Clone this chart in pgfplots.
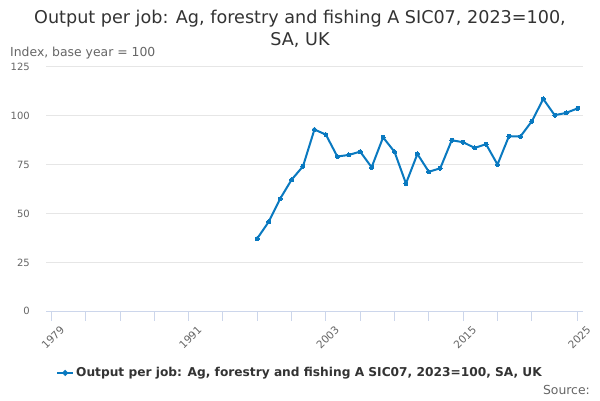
\documentclass[border=0pt]{standalone}
\usepackage{pgfplots}
\pgfplotsset{compat=1.18}
\usepackage{fontspec}
\setmainfont{DejaVu Sans}
\definecolor{linec}{RGB}{9,121,192}
\definecolor{gridc}{RGB}{230,230,230}
\definecolor{axisc}{RGB}{204,214,235}
\definecolor{txtc}{RGB}{51,51,51}
\definecolor{lblc}{RGB}{102,102,102}
\begin{document}
\begin{tikzpicture}[x=1bp,y=1bp]
\path[use as bounding box,fill=white] (0,0) rectangle (600,400);
\node[text=txtc,font=\fontsize{17.6bp}{22bp}\selectfont,align=center] at (300,371) {Output per job: Ag, forestry and fishing A SIC07, 2023=100,\\SA, UK};
\node[text=lblc,font=\fontsize{12.4bp}{14bp}\selectfont,anchor=west,inner sep=0] at (10,347) {Index, base year = 100};
\node[text=lblc,font=\fontsize{12.4bp}{14bp}\selectfont,anchor=east,inner sep=0] at (590,10) {Source:};
\begin{axis}[
  at={(46bp,88.7bp)}, anchor=south west,
  scale only axis, width=537.3bp, height=244.6bp,
  xmin=1978.54, xmax=2025.5, ymin=0, ymax=125,
  axis line style={draw=none},
  axis x line*=bottom,
  x axis line style={draw=axisc,line width=0.8pt},
  y axis line style={draw=none},
  ytick={0,25,50,75,100,125},
  ymajorgrids, grid style={gridc,line width=0.6pt},
  major y tick style={draw=none},
  xtick={1979,1991,2003,2015,2025},
  xticklabels={1979,1991,2003,2015,2025},
  minor xtick={1982,1985,1988,1994,1997,2000,2006,2009,2012,2018,2021},
  major x tick style={draw=axisc,line width=0.8pt},
  minor x tick style={draw=axisc,line width=0.8pt},
  xtick align=outside, major tick length=9.5bp, minor tick length=9.5bp,
  x tick label style={rotate=45,anchor=east,font=\fontsize{10.5bp}{12bp}\selectfont,text=lblc,inner sep=0pt,yshift=-13bp,xshift=3bp},
  y tick label style={font=\fontsize{10bp}{12bp}\selectfont,text=lblc,anchor=east,inner sep=0pt,xshift=-16bp},
  /pgf/number format/assume math mode=true,
  clip=false,
  legend style={at={(0.4727,-0.252)},anchor=center,draw=none,fill=none,
    font=\bfseries\fontsize{12.2bp}{14bp}\selectfont,text=txtc,inner sep=0pt},
  legend image code/.code={
    \draw[linec,line width=2bp] (0bp,0bp) -- (16bp,0bp);
    \fill[linec] (8bp,0bp) circle (1.8bp);
  },
]
\addplot[linec,line width=2bp,mark=*,mark size=2bp,mark options={fill=linec,draw=linec,line width=0pt}] coordinates {
(1997,37.2)(1998,45.7)(1999,57.5)(2000,67.2)(2001,74.1)(2002,92.9)(2003,90.3)
(2004,79.1)(2005,79.9)(2006,81.6)(2007,73.6)(2008,88.9)(2009,81.5)(2010,65.3)
(2011,80.4)(2012,71.3)(2013,73.1)(2014,87.4)(2015,86.4)(2016,83.5)(2017,85.4)
(2018,75.0)(2019,89.5)(2020,89.3)(2021,97.1)(2022,108.5)(2023,100.2)(2024,101.4)(2025,103.7)
};
\addlegendentry{Output per job: Ag, forestry and fishing A SIC07, 2023=100, SA, UK}
\end{axis}
\end{tikzpicture}
\end{document}
